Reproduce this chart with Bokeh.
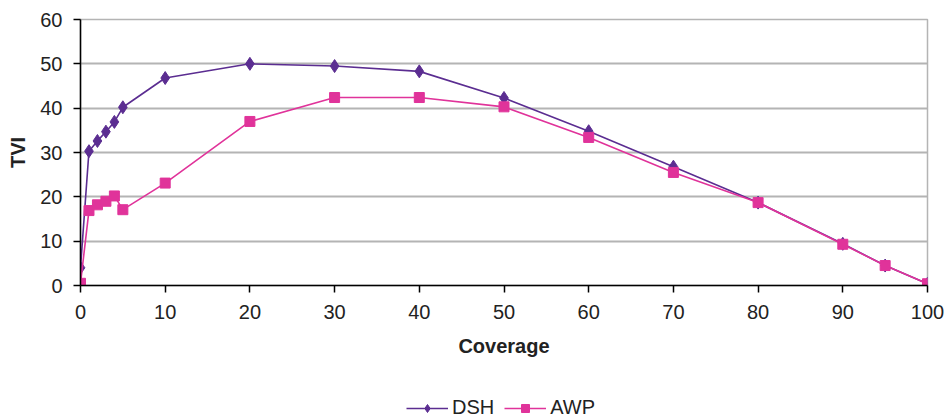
from bokeh.plotting import figure
from bokeh.models import Legend, LegendItem, FixedTicker, Range1d
from bokeh.layouts import column
from bokeh.embed import file_html
from bokeh.resources import INLINE

coverage = [0, 1, 2, 3, 4, 5, 10, 20, 30, 40, 50, 60, 70, 80, 90, 95, 100]
dsh = [4, 30.3, 32.6, 34.7, 36.9, 40.2, 46.8, 50.0, 49.5, 48.3, 42.3, 34.8, 26.8, 18.7, 9.4, 4.5, 0.4]
awp = [0.5, 16.9, 18.2, 19.0, 20.2, 17.1, 23.1, 37.0, 42.4, 42.4, 40.3, 33.4, 25.5, 18.7, 9.3, 4.5, 0.4]
x_ticks = [0, 10, 20, 30, 40, 50, 60, 70, 80, 90, 100]
y_ticks = [0, 10, 20, 30, 40, 50, 60]
series_names = ["DSH", "AWP"]

purple = "#5b2d91"
pink = "#e0339a"
font = "Liberation Sans"

p = figure(width=948, height=359, output_backend="svg", toolbar_location=None,
           x_range=Range1d(0, 100), y_range=Range1d(0, 60),
           min_border_left=80, min_border_right=21, min_border_top=19, min_border_bottom=0)
p.background_fill_color = "white"
p.border_fill_color = "white"
p.outline_line_color = "#b4b4b4"
p.outline_line_width = 1.5

p.line(coverage, dsh, line_color=purple, line_width=1.6)
p.scatter(coverage, dsh, marker="diamond", size=13, fill_color=purple, line_color=purple)
p.line(coverage, awp, line_color=pink, line_width=1.6)
p.scatter(coverage, awp, marker="square", size=10, fill_color=pink, line_color=pink)

p.xgrid.grid_line_color = None
p.ygrid.grid_line_color = "#b4b4b4"
p.ygrid.grid_line_width = 2
p.ygrid.ticker = FixedTicker(ticks=y_ticks)

for ax in (p.xaxis[0], p.yaxis[0]):
    ax.axis_line_color = "black"
    ax.axis_line_width = 1.5
    ax.major_tick_line_color = "black"
    ax.major_tick_line_width = 1.5
    ax.major_tick_out = 7
    ax.major_tick_in = 0
    ax.minor_tick_line_color = None
    ax.major_label_text_font = font
    ax.major_label_text_font_size = "20px"
    ax.major_label_text_color = "#222222"
    ax.axis_label_text_font = font
    ax.axis_label_text_font_style = "bold"
    ax.axis_label_text_font_size = "20px"
    ax.axis_label_text_color = "#222222"

p.xaxis.ticker = FixedTicker(ticks=x_ticks)
p.yaxis.ticker = FixedTicker(ticks=y_ticks)
p.xaxis.axis_label = "Coverage"
p.yaxis.axis_label = "TVI"
p.xaxis.major_label_standoff = 12
p.xaxis.axis_label_standoff = 13
p.yaxis.major_label_standoff = 11
p.yaxis.axis_label_standoff = 8

# legend strip: same series drawn out of view, used only as legend templates
lf = figure(width=948, height=61, output_backend="svg", toolbar_location=None,
            x_range=Range1d(0, 100), y_range=Range1d(-300, -200),
            x_axis_location=None, y_axis_location=None,
            min_border=0, outline_line_color=None)
lf.grid.visible = False
lf.border_fill_color = "white"
g1 = lf.line(coverage, dsh, line_color=purple, line_width=1.6)
s1 = lf.scatter(coverage, dsh, marker="diamond", size=13, fill_color=purple, line_color=purple)
g2 = lf.line(coverage, awp, line_color=pink, line_width=1.6)
s2 = lf.scatter(coverage, awp, marker="square", size=10, fill_color=pink, line_color=pink)

legend = Legend(items=[LegendItem(label=series_names[0], renderers=[g1, s1]),
                       LegendItem(label=series_names[1], renderers=[g2, s2])],
                orientation="horizontal", location=(326, 1),
                border_line_color=None, background_fill_alpha=0,
                label_text_font=font, label_text_font_size="20px",
                label_text_color="#222222", glyph_width=42, label_standoff=4,
                spacing=10, padding=0, margin=0)
lf.add_layout(legend, "center")

layout = column(p, lf, spacing=0)
open("out.html", "w").write(file_html(layout, INLINE))
